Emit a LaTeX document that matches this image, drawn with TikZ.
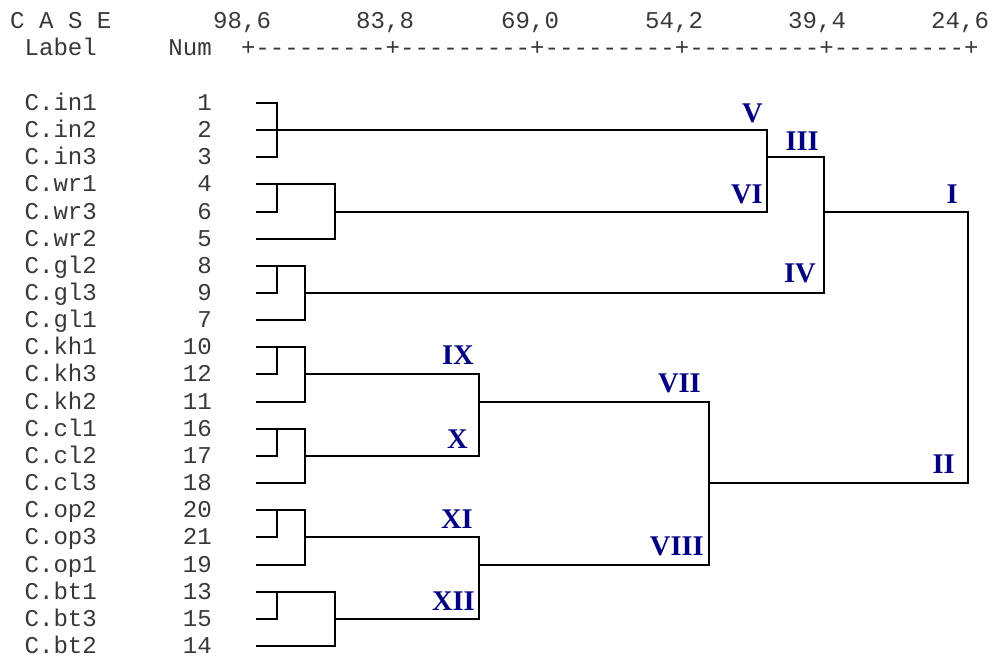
\documentclass[tikz,border=0pt]{standalone}
\usepackage{fontspec}
\newfontfamily\monofnt{Liberation Mono}
\newfontfamily\romfnt{Liberation Serif}
\definecolor{romblue}{RGB}{0,0,128}
\tikzset{
  mono/.style={font=\monofnt\fontsize{24.1}{28}\selectfont, inner sep=0pt, text=black!78},
  lbl/.style={mono, anchor=base west},
  numlbl/.style={mono, anchor=base east},
  rom/.style={font=\romfnt\bfseries\fontsize{28.5}{32}\selectfont, text=romblue, inner sep=0pt, anchor=base east},
  tree/.style={draw=black, line width=2pt, line join=miter}
}
\begin{document}
\begin{tikzpicture}[x=1pt,y=-1pt]
\useasboundingbox (0,0) rectangle (994,656);
% header
\node[lbl] (hcase) at (10,28) {C A S E};
\node[lbl] (h1) at (213,28) {98,6};
\node[lbl] (h2) at (356,28) {83,8};
\node[lbl] (h3) at (501,28) {69,0};
\node[lbl] (h4) at (645,28) {54,2};
\node[lbl] (h5) at (788,28) {39,4};
\node[lbl] (h6) at (931,28) {24,6};
\node[lbl] (hlabel) at (24.4,55) {Label};
\node[numlbl] (hnum) at (212,55) {Num};
\node[lbl] (ruler) at (240.8,55.5) {+---------+---------+---------+---------+---------+};
% leaves
\foreach \i/\lab/\num/\yy in {1/C.in1/1/103, 2/C.in2/2/130, 3/C.in3/3/157, 4/C.wr1/4/184,
  5/C.wr3/6/212, 6/C.wr2/5/239, 7/C.gl2/8/266, 8/C.gl3/9/293, 9/C.gl1/7/320,
  10/C.kh1/10/347, 11/C.kh3/12/374, 12/C.kh2/11/402, 13/C.cl1/16/429, 14/C.cl2/17/456,
  15/C.cl3/18/483, 16/C.op2/20/510, 17/C.op3/21/537, 18/C.op1/19/565,
  19/C.bt1/13/592, 20/C.bt3/15/619, 21/C.bt2/14/646}{
  \node[lbl] (t\i) at (24.4,\yy+7) {\lab};
  \node[numlbl] (n\i) at (212,\yy+7) {\num};
  \coordinate (l\i) at (256,\yy);
}
% joints
\coordinate (jIn) at (277,130);
\coordinate (jWa) at (277,184);
\coordinate (jW)  at (335,212);
\coordinate (jVVI) at (767,157);
\coordinate (jGa) at (277,266);
\coordinate (jG)  at (305,293);
\coordinate (jIII) at (824,212);
\coordinate (jKa) at (277,347);
\coordinate (jK)  at (305,374);
\coordinate (jCa) at (277,429);
\coordinate (jC)  at (305,456);
\coordinate (jIX) at (479,402);
\coordinate (jOa) at (277,510);
\coordinate (jO)  at (305,537);
\coordinate (jBa) at (277,592);
\coordinate (jB)  at (335,619);
\coordinate (jXI) at (479,565);
\coordinate (jVII) at (709,483);
\coordinate (jI) at (968,350);
% tree
\path[tree] (l1) -| (jIn) |- (l3);
\path[tree] (l2) -- (jIn) -| (jVVI) |- (jW);
\path[tree] (l5) -| (jWa);
\path[tree] (l4) -| (jW) |- (l6);
\path[tree] (l8) -| (jGa);
\path[tree] (l7) -| (jG) |- (l9);
\path[tree] (jVVI) -| (jIII) |- (jG);
\path[tree] (l11) -| (jKa);
\path[tree] (l10) -| (jK) |- (l12);
\path[tree] (l14) -| (jCa);
\path[tree] (l13) -| (jC) |- (l15);
\path[tree] (jK) -| (jIX) |- (jC);
\path[tree] (l17) -| (jOa);
\path[tree] (l16) -| (jO) |- (l18);
\path[tree] (l20) -| (jBa);
\path[tree] (l19) -| (jB) |- (l21);
\path[tree] (jO) -| (jXI) |- (jB);
\path[tree] (jIX) -| (jVII) |- (jXI);
\path[tree] (jIII) -| (jI) |- (jVII);
% roman labels
\node[rom] (rV) at (763,122) {V};
\node[rom] (rIII) at (819,150) {III};
\node[rom] (rVI) at (763,203) {VI};
\node[rom] (rI) at (958,203) {I};
\node[rom] (rIV) at (816,282) {IV};
\node[rom] (rII) at (955,473) {II};
\node[rom] (rIX) at (474,364) {IX};
\node[rom] (rX) at (468,448) {X};
\node[rom] (rVII) at (701,392) {VII};
\node[rom] (rVIII) at (704,555) {VIII};
\node[rom] (rXI) at (473,528) {XI};
\node[rom] (rXII) at (475,610) {XII};
\end{tikzpicture}
\end{document}
